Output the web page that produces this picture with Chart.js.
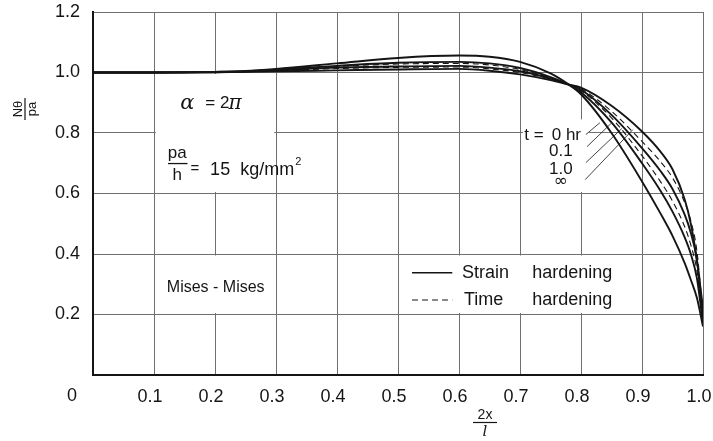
<!DOCTYPE html>
<html>
<head>
<meta charset="utf-8">
<script src="https://cdn.jsdelivr.net/npm/chart.js@4.4.1/dist/chart.umd.min.js"></script>
<style>
  html,body{margin:0;padding:0;background:#fff}
  #wrap{position:relative;width:713px;height:441px}
</style>
</head>
<body>
<div id="wrap"><canvas id="chart"></canvas></div>
<script>
'use strict';

// 2x/l positions and N_theta/pa values
const xs        = [0, 0.1, 0.2, 0.25, 0.3, 0.4, 0.5, 0.6, 0.65, 0.7, 0.75, 0.78, 0.8, 0.85, 0.9, 0.93, 0.95, 0.97, 0.98, 0.99, 1.0];
const strainT0  = [1.0, 1.0, 1.002, 1.005, 1.012, 1.03, 1.048, 1.056, 1.052, 1.035, 0.997, 0.96, 0.928, 0.80, 0.64, 0.535, 0.46, 0.37, 0.315, 0.255, 0.16];
const strainT01 = [1.0, 1.0, 1.002, 1.004, 1.009, 1.022, 1.032, 1.035, 1.03, 1.015, 0.985, 0.96, 0.935, 0.835, 0.70, 0.61, 0.54, 0.455, 0.40, 0.32, 0.17];
const timeT01   = [1.0, 1.0, 1.002, 1.004, 1.008, 1.02, 1.028, 1.03, 1.025, 1.01, 0.982, 0.96, 0.94, 0.85, 0.725, 0.64, 0.575, 0.49, 0.43, 0.345, 0.18];
const strainT1  = [1.0, 1.0, 1.001, 1.003, 1.007, 1.016, 1.02, 1.022, 1.016, 1.004, 0.98, 0.96, 0.943, 0.86, 0.75, 0.675, 0.615, 0.53, 0.47, 0.38, 0.19];
const timeT1    = [1.0, 1.0, 1.001, 1.003, 1.006, 1.013, 1.017, 1.018, 1.012, 1.0, 0.978, 0.96, 0.946, 0.872, 0.772, 0.706, 0.652, 0.57, 0.51, 0.41, 0.20];
const strainInf = [1.0, 1.0, 1.001, 1.002, 1.004, 1.007, 1.01, 1.012, 1.006, 0.994, 0.975, 0.96, 0.95, 0.89, 0.805, 0.739, 0.68, 0.58, 0.50, 0.38, 0.22];

const xTicks = [0.1, 0.2, 0.3, 0.4, 0.5, 0.6, 0.7, 0.8, 0.9, 1.0];
const yTicks = [0.2, 0.4, 0.6, 0.8, 1.0, 1.2];

const INK = '#151515';
const FONT = '"Liberation Sans", Arial, sans-serif';

function pts(ys) { return xs.map((x, i) => ({x: x, y: ys[i]})); }

function lineSet(label, ys, dashed) {
  return {
    label: label,
    data: pts(ys),
    borderColor: INK,
    borderWidth: dashed ? 1.1 : 1.9,
    borderDash: dashed ? [6, 4] : [],
    pointRadius: 0,
    fill: false,
    cubicInterpolationMode: 'monotone'
  };
}

const notes = {
  id: 'notes',
  beforeDatasetsDraw(chart) {
    // white patches behind the lettering (grid is broken there)
    const {ctx, scales: {x, y}} = chart;
    const boxes = [[0.103, 0.297, 0.605, 0.995], [0.105, 0.295, 0.205, 0.395],
                   [0.51, 0.888, 0.205, 0.395], [0.705, 0.813, 0.605, 0.845]];
    ctx.save();
    ctx.fillStyle = '#fff';
    boxes.forEach(b => {
      const l = x.getPixelForValue(b[0]), r = x.getPixelForValue(b[1]);
      const t = y.getPixelForValue(b[3]), btm = y.getPixelForValue(b[2]);
      ctx.fillRect(l, t, r - l, btm - t);
    });
    ctx.restore();
  },
  afterDraw(chart) {
    const {ctx, scales: {x, y}} = chart;
    const P = (a, b) => [x.getPixelForValue(a), y.getPixelForValue(b)];
    ctx.save();
    ctx.fillStyle = INK;
    ctx.strokeStyle = INK;
    ctx.textBaseline = 'middle';
    ctx.textAlign = 'left';

    const txt = (s, a, b, font, align) => {
      const p = P(a, b);
      ctx.font = font;
      ctx.textAlign = align || 'left';
      ctx.fillText(s, p[0], p[1]);
      return p[0] + ctx.measureText(s).width;
    };
    const seg = (a1, b1, a2, b2, w, dash) => {
      const p1 = P(a1, b1), p2 = P(a2, b2);
      ctx.lineWidth = w;
      ctx.setLineDash(dash || []);
      ctx.beginPath(); ctx.moveTo(p1[0], p1[1]); ctx.lineTo(p2[0], p2[1]); ctx.stroke();
    };

    // alpha = 2 pi
    txt('α', 0.143, 0.897, 'italic 21px "DejaVu Serif", serif');
    txt('= 2', 0.184, 0.897, '17px ' + FONT);
    txt('π', 0.222, 0.897, 'italic 20px "DejaVu Serif", serif');

    // pa/h = 15 kg/mm2
    txt('pa', 0.138, 0.733, '17px ' + FONT, 'center');
    seg(0.123, 0.699, 0.155, 0.699, 1.3);
    txt('h', 0.138, 0.660, '17px ' + FONT, 'center');
    txt('=', 0.160, 0.681, '15px ' + FONT);
    const end = txt('15  kg/mm', 0.192, 0.679, '18px ' + FONT);
    ctx.font = '11px ' + FONT;
    ctx.fillText('2', end + 1, y.getPixelForValue(0.704));

    txt('Mises - Mises', 0.121, 0.288, '16px ' + FONT);

    // key
    seg(0.523, 0.338, 0.589, 0.338, 1.5);
    txt('Strain', 0.605, 0.338, '18px ' + FONT);
    txt('hardening', 0.720, 0.338, '18px ' + FONT);
    seg(0.523, 0.248, 0.589, 0.248, 1.1, [6, 4]);
    txt('Time', 0.608, 0.248, '18px ' + FONT);
    txt('hardening', 0.720, 0.248, '18px ' + FONT);

    // time labels with leaders
    txt('t =', 0.707, 0.791, '17px ' + FONT);
    txt('0 hr', 0.752, 0.791, '17px ' + FONT);
    txt('0.1', 0.767, 0.738, '17px ' + FONT, 'center');
    txt('1.0', 0.767, 0.681, '17px ' + FONT, 'center');
    txt('∞', 0.767, 0.638, '17px "DejaVu Sans", sans-serif', 'center');
    seg(0.808, 0.795, 0.831, 0.834, 0.8);
    seg(0.810, 0.755, 0.849, 0.831, 0.8);
    seg(0.808, 0.702, 0.867, 0.815, 0.8);
    seg(0.807, 0.646, 0.885, 0.811, 0.8);

    // origin label and axis titles
    ctx.setLineDash([]);
    ctx.textAlign = 'center';
    ctx.font = '18px ' + FONT;
    ctx.fillText('0', 72, 396);

    ctx.font = '14px ' + FONT;
    ctx.fillText('2x', 485, 415);
    ctx.lineWidth = 1.2;
    ctx.beginPath(); ctx.moveTo(473, 422.5); ctx.lineTo(497, 422.5); ctx.stroke();
    ctx.font = 'italic 15px "DejaVu Serif", serif';
    ctx.fillText('l', 485, 432);

    ctx.translate(25, 109);
    ctx.rotate(-Math.PI / 2);
    ctx.font = '13px ' + FONT;
    ctx.fillText('Nθ', 0, -7);
    ctx.fillText('pa', 0, 7);
    ctx.beginPath(); ctx.moveTo(-11, 0); ctx.lineTo(11, 0); ctx.stroke();
    ctx.restore();
  }
};

new Chart(document.getElementById('chart'), {
  type: 'line',
  data: {
    datasets: [
      lineSet('t = 0 hr', strainT0, false),
      lineSet('t = 0.1 (strain)', strainT01, false),
      lineSet('t = 0.1 (time)', timeT01, true),
      lineSet('t = 1.0 (strain)', strainT1, false),
      lineSet('t = 1.0 (time)', timeT1, true),
      lineSet('t = ∞', strainInf, false)
    ]
  },
  options: {
    responsive: true,
    maintainAspectRatio: false,
    animation: false,
    layout: {padding: {top: 12, right: 10, left: 0, bottom: 0}},
    plugins: {legend: {display: false}, tooltip: {enabled: false}},
    scales: {
      x: {
        type: 'linear', min: 0, max: 1,
        afterBuildTicks: s => { s.ticks = [0].concat(xTicks).map(v => ({value: v})); },
        afterFit: s => { s.height = 66; s.paddingLeft = 0; s.paddingRight = 0; },
        grid: {color: '#6f6f6f', lineWidth: 1, drawTicks: false},
        border: {color: INK, width: 2},
        ticks: {
          padding: 11, labelOffset: -4, color: INK, maxRotation: 0, autoSkip: false,
          font: {family: FONT, size: 18},
          callback: v => v === 0 ? '' : v.toFixed(1)
        }
      },
      y: {
        type: 'linear', min: 0, max: 1.2,
        afterBuildTicks: s => { s.ticks = [0].concat(yTicks).map(v => ({value: v})); },
        afterFit: s => { s.width = 93; s.paddingTop = 0; s.paddingBottom = 0; },
        grid: {color: '#6f6f6f', lineWidth: 1, drawTicks: false},
        border: {color: INK, width: 2},
        ticks: {
          padding: 13, color: INK, autoSkip: false,
          font: {family: FONT, size: 18},
          callback: v => v === 0 ? '' : v.toFixed(1)
        }
      }
    }
  },
  plugins: [notes]
});
</script>
</body>
</html>
